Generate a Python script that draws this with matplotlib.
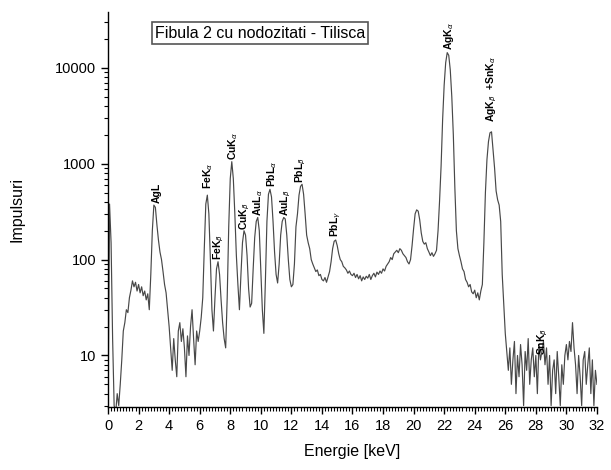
import matplotlib
matplotlib.use('Agg')
import matplotlib.pyplot as plt
import numpy as np
from matplotlib.ticker import LogLocator, MultipleLocator, FixedLocator

plt.rcParams['font.family'] = ['Liberation Sans', 'DejaVu Sans']

# spectrum, every 0.1 keV (0 .. 32 keV)
energy = np.round(np.arange(0, 321) * 0.1, 1)
counts = [
    2.5, 380, 150, 15, 3, 2.5, 4, 3, 5, 9,                      # 0
    18, 22, 30, 28, 40, 48, 60, 52, 58, 47,                     # 1
    55, 45, 52, 42, 47, 38, 44, 30, 70, 200,                    # 2
    370, 350, 230, 160, 120, 100, 75, 55, 45, 30,               # 3
    20, 12, 7, 15, 9, 6, 18, 22, 14, 19,                        # 4
    12, 6, 16, 10, 20, 30, 15, 8, 18, 14,                       # 5
    18, 25, 40, 130, 380, 470, 300, 100, 30, 18,                # 6
    40, 80, 95, 70, 38, 22, 15, 12, 40, 220,                    # 7
    700, 1050, 700, 300, 110, 55, 30, 70, 150, 200,             # 8
    180, 110, 50, 32, 35, 80, 170, 250, 275, 200,               # 9
    80, 30, 17, 60, 250, 480, 540, 450, 250, 120,               # 10
    70, 57, 90, 180, 250, 275, 265, 180, 100, 62,               # 11
    52, 55, 90, 220, 300, 470, 580, 610, 480, 300,              # 12
    180, 150, 130, 100, 90, 82, 75, 78, 68, 70,                 # 13
    62, 60, 65, 58, 66, 75, 95, 130, 155, 160,                  # 14
    140, 115, 100, 95, 85, 82, 78, 72, 76, 70,                  # 15
    68, 72, 65, 70, 63, 68, 60, 66, 62, 67,                     # 16
    64, 70, 62, 68, 72, 66, 74, 70, 76, 72,                     # 17
    80, 76, 85, 90, 95, 105, 100, 115, 120, 125,                # 18
    118, 130, 125, 115, 110, 105, 95, 90, 100, 140,             # 19
    210, 300, 330, 320, 260, 190, 155, 145, 150, 130,           # 20
    120, 110, 118, 108, 115, 125, 200, 410, 950, 2900,          # 21
    6600, 11300, 14400, 13500, 9500, 5000, 2000, 560, 200, 130, # 22
    110, 95, 80, 75, 62, 58, 52, 55, 46, 44,                    # 23
    48, 40, 45, 38, 47, 55, 150, 500, 1100, 1700,               # 24
    2100, 2150, 1400, 900, 520, 420, 370, 250, 70, 35,          # 25
    17, 11, 7, 12, 5, 9, 14, 4, 10, 6,                          # 26
    13, 8, 3, 11, 7, 15, 5, 9, 12, 6,                           # 27
    10, 4, 13, 9, 11, 14, 8, 12, 5, 10,                         # 28
    3, 7, 9, 4, 11, 6, 3, 8, 5, 10,                             # 29
    13, 9, 14, 11, 22, 12, 8, 4, 10, 6,                         # 30
    3, 9, 11, 5, 8, 12, 4, 9, 3, 7,                             # 31
    5,                                                          # 32
]

# peak labels: text, energy, counts at label foot
peak_names = [r'AgL', r'FeK$_\alpha$', r'FeK$_\beta$', r'CuK$_\alpha$', r'CuK$_\beta$',
              r'AuL$_\alpha$', r'PbL$_\alpha$', r'AuL$_\beta$', r'PbL$_\beta$', r'PbL$_\gamma$',
              r'AgK$_\alpha$', r'AgK$_\beta$  +SnK$_\alpha$', r'SnK$_\beta$']
peak_e = [3.2, 6.54, 7.26, 8.18, 8.97, 9.82, 10.73, 11.65, 12.63, 14.92, 22.3, 25.13, 28.47]
peak_y = [390, 540, 100, 1100, 205, 285, 570, 285, 630, 170, 15500, 2700, 10]

fig = plt.figure(figsize=(6.11, 4.70), dpi=100)
ax = fig.add_axes([0.1768, 0.134, 0.8002, 0.840])

ax.plot(energy, counts, color='#484848', lw=0.85)
ax.set_yscale('log')
ax.set_xlim(0, 32)
ax.set_ylim(2.9, 38000)

for s in ['top', 'right']:
    ax.spines[s].set_visible(False)
for s in ['left', 'bottom']:
    ax.spines[s].set_linewidth(1.0)

ax.xaxis.set_major_locator(MultipleLocator(2))
ax.xaxis.set_minor_locator(MultipleLocator(0.2))
ax.yaxis.set_major_locator(FixedLocator([10, 100, 1000, 10000]))
ax.yaxis.set_minor_locator(LogLocator(base=10, subs=np.arange(2, 10), numticks=20))
ax.yaxis.set_major_formatter(plt.FuncFormatter(lambda v, p: '%d' % v))
ax.yaxis.set_minor_formatter(plt.NullFormatter())
ax.tick_params(which='major', direction='out', length=5, width=1, labelsize=10.5)
ax.tick_params(which='minor', direction='out', length=3, width=0.8)

ax.set_xlabel('Energie [keV]', fontsize=11.5, labelpad=8)
ax.set_ylabel('Impulsuri', fontsize=11.5, labelpad=22)

for name, e, y in zip(peak_names, peak_e, peak_y):
    ax.text(e, y, name, rotation=90, ha='center', va='bottom', fontsize=7.5, fontweight='bold')

ax.text(0.311, 0.947, 'Fibula 2 cu nodozitati - Tilisca', transform=ax.transAxes,
        ha='center', va='center', fontsize=11.5,
        bbox=dict(boxstyle='square,pad=0.2', fc='white', ec='#555555', lw=1.2))

fig.savefig('out.png', dpi=100)
